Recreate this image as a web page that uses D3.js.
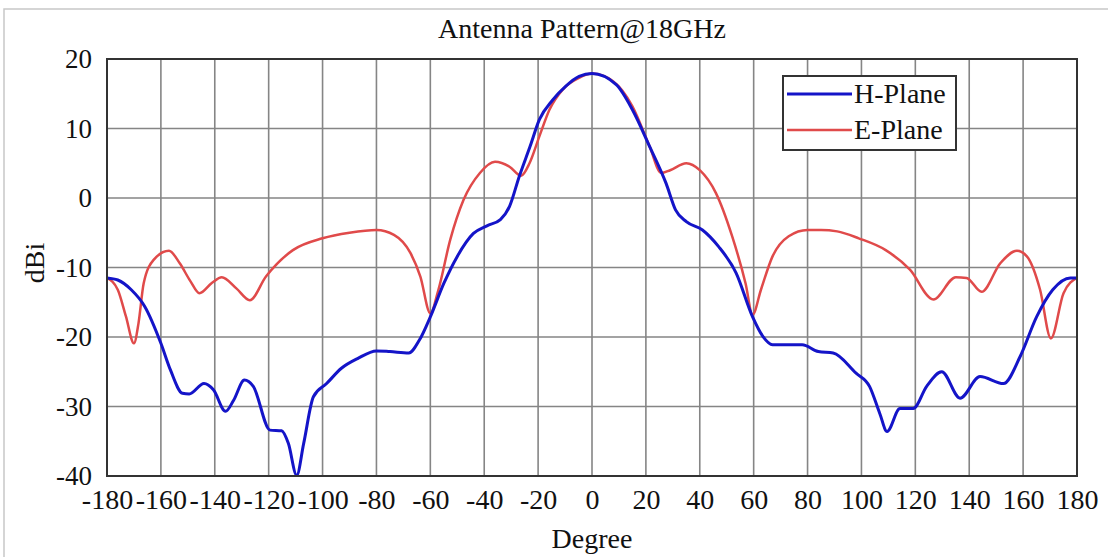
<!DOCTYPE html>
<html>
<head>
<meta charset="UTF-8">
<script src="https://d3js.org/d3.v7.min.js"></script>
</head>
<body style="margin:0">
<svg id="chart" width="1108" height="557"></svg>
<script>
// degree ticks and gain ticks
var degTicks = [-180,-160,-140,-120,-100,-80,-60,-40,-20,0,20,40,60,80,100,120,140,160,180];
var dbTicks = [20,10,0,-10,-20,-30,-40];

// H-Plane
var hDeg = [-180,-176,-171,-166,-160,-156.5,-152,-149.5,-144,-140.5,-136,-133,-129,-125.7,-119.5,-115.2,-112.7,-109.6,-107,-103.4,-98.5,-93,-87,-80,-75,-68,-64,-60,-55,-50,-44,-39,-34,-30.6,-27,-23,-19.5,-14.6,-9.7,-4.8,0,9,15,21.4,27.5,31,35,41,47,53.5,59.6,63.4,67,73,78,84,89.5,98,103,106.8,109.5,114.3,119.2,124.2,129.8,136.6,144,152.7,158.9,165,171,177.5,180];
var hGain = [-11.5,-11.8,-13.2,-15.6,-20.9,-24.7,-28.1,-28.2,-26.7,-27.6,-30.7,-29.1,-26.2,-27.1,-33.4,-33.5,-35.3,-39.9,-35.3,-28.6,-26.7,-24.5,-23.1,-22.0,-22.1,-22.3,-20.4,-17.1,-12.3,-8.4,-5.1,-4.0,-3.1,-1.2,3.1,7.4,11.3,14.1,16.1,17.5,17.9,16.3,12.7,7.4,2.1,-1.7,-3.4,-4.6,-7.0,-10.8,-17.1,-19.9,-21.1,-21.1,-21.1,-22.1,-22.3,-25.2,-27.1,-31.0,-33.6,-30.3,-30.3,-27.1,-25.0,-28.8,-25.7,-26.7,-22.8,-17.1,-13.2,-11.5,-11.5];

// E-Plane
var eDeg = [-180,-176,-173,-170,-168.3,-166.4,-162.7,-157,-153,-149,-145.7,-141,-137.4,-132,-127,-121,-111,-100,-90,-80,-73.5,-67.4,-63.7,-60,-57,-52.6,-47.7,-41.6,-36,-30.6,-26.3,-23.2,-19.5,-15.8,-10.9,-4.8,0,7.8,15,21.4,25.7,29,35,40,46,52,57,59.6,62.7,67,73,80,85,91,99,109,118,126.7,135,139,144.6,151.5,157.7,161.4,166.3,170.3,175,180];
var eGain = [-11.5,-13.2,-17,-20.9,-18,-12.3,-8.9,-7.6,-9.4,-12,-13.7,-12.2,-11.4,-13.0,-14.7,-11.3,-7.5,-5.8,-5.0,-4.6,-5.3,-7.9,-11.3,-16.6,-13.2,-6.0,-0.3,3.6,5.2,4.5,3.2,5.0,8.9,12.7,15.6,17.3,17.9,16.8,13.2,7.4,3.6,4.0,5.0,4.0,0.7,-5.5,-12.3,-16.8,-13.2,-8.4,-5.5,-4.6,-4.6,-4.8,-5.8,-7.5,-10.3,-14.6,-11.4,-11.5,-13.5,-9.4,-7.6,-8.4,-13.2,-20.2,-13.7,-11.5];

var series = [
  {name: "H-Plane", color: "#1414c8", width: 3, deg: hDeg, gain: hGain},
  {name: "E-Plane", color: "#e04a4a", width: 2.5, deg: eDeg, gain: eGain}
];

var svg = d3.select("#chart");
var plotLeft = 107, plotRight = 1077, plotTop = 59, plotBottom = 476;

var x = d3.scaleLinear().domain([-180, 180]).range([plotLeft, plotRight]);
var y = d3.scaleLinear().domain([-40, 20]).range([plotBottom, plotTop]);

// plain hyphen minus like the original
function fmt(d) { return String(d); }

// serif text helper
function label(sel, size) {
  return sel.style("font-family", "'Liberation Serif'").attr("font-size", size).attr("fill", "#111");
}

// light outer border of the picture
svg.append("rect")
  .attr("x", 4).attr("y", 9).attr("width", 1120).attr("height", 600)
  .attr("fill", "none").attr("stroke", "#c8c8c8").attr("stroke-width", 1.5);

// grid
svg.append("g").selectAll("line")
  .data(degTicks.slice(1, -1)).enter().append("line")
  .attr("x1", function(d) { return x(d); }).attr("x2", function(d) { return x(d); })
  .attr("y1", plotTop).attr("y2", plotBottom)
  .attr("stroke", "#858585").attr("stroke-width", 1.6);
svg.append("g").selectAll("line")
  .data(dbTicks.slice(1, -1)).enter().append("line")
  .attr("y1", function(d) { return y(d); }).attr("y2", function(d) { return y(d); })
  .attr("x1", plotLeft).attr("x2", plotRight)
  .attr("stroke", "#858585").attr("stroke-width", 1.6);

// axes (labels only, frame drawn separately)
var xAxis = svg.append("g")
  .attr("transform", "translate(0," + plotBottom + ")")
  .call(d3.axisBottom(x).tickValues(degTicks).tickFormat(fmt).tickSize(0));
xAxis.attr("font-family", null).attr("font-size", null);
xAxis.select(".domain").remove();
label(xAxis.selectAll("text"), 28).attr("y", 33).attr("dy", null);

var yAxis = svg.append("g")
  .attr("transform", "translate(" + plotLeft + ",0)")
  .call(d3.axisLeft(y).tickValues(dbTicks).tickFormat(fmt).tickSize(0).tickPadding(15));
yAxis.attr("font-family", null).attr("font-size", null);
yAxis.select(".domain").remove();
label(yAxis.selectAll("text"), 27);

// curves
var line = d3.line()
  .x(function(d) { return x(d[0]); })
  .y(function(d) { return y(d[1]); })
  .curve(d3.curveMonotoneX);

var plot = svg.append("g");
plot.append("clipPath").attr("id", "clip").append("rect")
  .attr("x", plotLeft).attr("y", plotTop - 2)
  .attr("width", plotRight - plotLeft).attr("height", plotBottom - plotTop + 4);

series.slice().reverse().forEach(function(s) {
  var pts = s.deg.map(function(d, i) { return [d, s.gain[i]]; });
  plot.append("path")
    .attr("d", line(pts))
    .attr("fill", "none")
    .attr("stroke", s.color)
    .attr("stroke-width", s.width)
    .attr("stroke-linejoin", "round")
    .attr("clip-path", "url(#clip)");
});

// frame
svg.append("rect")
  .attr("x", plotLeft).attr("y", plotTop)
  .attr("width", plotRight - plotLeft).attr("height", plotBottom - plotTop)
  .attr("fill", "none").attr("stroke", "#333").attr("stroke-width", 2);

// title and axis titles
label(svg.append("text"), 28)
  .attr("x", 582).attr("y", 38).attr("text-anchor", "middle")
  .text("Antenna Pattern@18GHz");

label(svg.append("text"), 28)
  .attr("transform", "translate(44,263) rotate(-90)")
  .attr("text-anchor", "middle")
  .text("dBi");

label(svg.append("text"), 28)
  .attr("x", 592).attr("y", 548).attr("text-anchor", "middle")
  .text("Degree");

// legend
var legend = svg.append("g");
legend.append("rect")
  .attr("x", 783).attr("y", 76).attr("width", 173).attr("height", 74)
  .attr("fill", "#fff").attr("stroke", "#333").attr("stroke-width", 2);
series.forEach(function(s, i) {
  var ly = 94 + i * 36;
  legend.append("line")
    .attr("x1", 787).attr("x2", 852).attr("y1", ly).attr("y2", ly)
    .attr("stroke", s.color).attr("stroke-width", s.width);
  label(legend.append("text"), 28)
    .attr("x", 854).attr("y", ly + 9)
    .text(s.name);
});
</script>
</body>
</html>
